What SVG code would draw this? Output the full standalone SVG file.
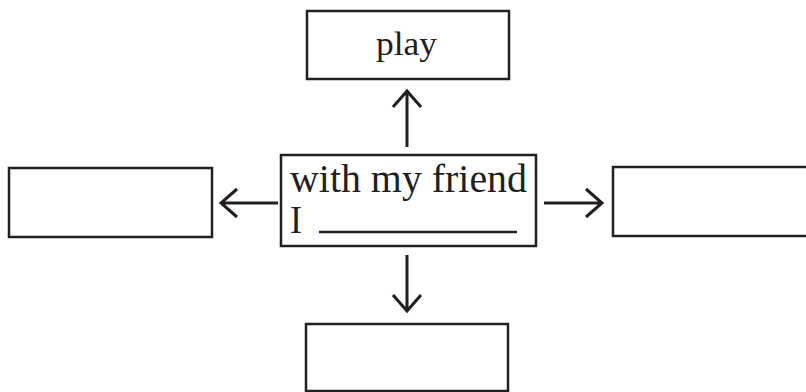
<svg xmlns="http://www.w3.org/2000/svg" width="806" height="392" viewBox="0 0 806 392">
<style>
.box{fill:#fff;stroke:#231f20;stroke-width:2.5}
.arr{fill:none;stroke:#231f20;stroke-width:3}
.txt{font-family:"Liberation Serif","DejaVu Serif",serif;fill:#231f20}
</style>
<rect width="806" height="392" fill="#fff"/>
<g id="connectors">
<path class="arr" d="M407 147 V90 M393 107 L407 91 L421 107"/>
<path class="arr" d="M278 203 H221 M237 189 L221 203 L237 217"/>
<path class="arr" d="M544 203 H602 M586 189 L602 203 L586 217"/>
<path class="arr" d="M407 255 V311 M393 295 L407 311 L421 295"/>
</g>
<g id="node-top">
<rect class="box" x="307" y="11" width="202" height="68"/>
<text class="txt" x="376" y="55" font-size="33" textLength="61" lengthAdjust="spacingAndGlyphs">play</text>
</g>
<g id="node-center">
<rect class="box" x="281" y="155" width="255" height="91"/>
<text class="txt" x="290" y="192" font-size="39" textLength="237" lengthAdjust="spacingAndGlyphs">with my friend</text>
<text class="txt" x="290" y="233" font-size="39" textLength="12" lengthAdjust="spacingAndGlyphs">I</text>
<line x1="319" y1="232" x2="517" y2="232" stroke="#231f20" stroke-width="2.4"/>
</g>
<g id="node-left">
<rect class="box" x="9" y="168" width="203" height="69"/>
</g>
<g id="node-right">
<rect class="box" x="613" y="167" width="210" height="69"/>
</g>
<g id="node-bottom">
<rect class="box" x="306" y="324" width="202" height="67"/>
</g>
</svg>
